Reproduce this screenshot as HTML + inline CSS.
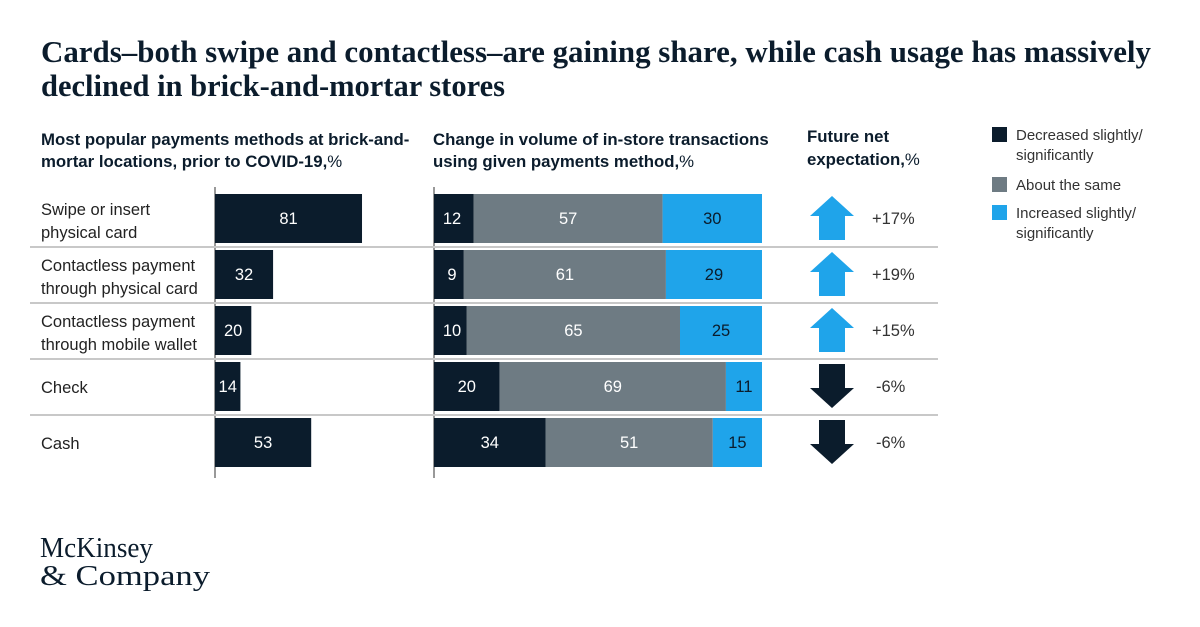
<!DOCTYPE html>
<html><head><meta charset="utf-8"><style>
body{margin:0;background:#fff;}
svg{display:block;font-family:"Liberation Sans",Arial,sans-serif;}
</style></head><body>
<svg id="chart" width="1200" height="627" viewBox="0 0 1200 627" xmlns="http://www.w3.org/2000/svg">
<text x="41" y="62" font-family="Liberation Serif,serif" font-weight="bold" font-size="30.5" fill="#0b1c2c" textLength="1110" lengthAdjust="spacingAndGlyphs">Cards–both swipe and contactless–are gaining share, while cash usage has massively</text>
<text x="41" y="96" font-family="Liberation Serif,serif" font-weight="bold" font-size="30.5" fill="#0b1c2c">declined in brick-and-mortar stores</text>
<g font-size="16.8" fill="#0b1c2c">
<text x="41" y="145" font-weight="bold">Most popular payments methods at brick-and-</text>
<text x="41" y="167" font-weight="bold">mortar locations, prior to COVID-19,<tspan font-weight="normal">%</tspan></text>
<text x="433" y="145" font-weight="bold">Change in volume of in-store transactions</text>
<text x="433" y="167" font-weight="bold">using given payments method,<tspan font-weight="normal">%</tspan></text>
<text x="807" y="142" font-weight="bold">Future net</text>
<text x="807" y="165" font-weight="bold">expectation,<tspan font-weight="normal">%</tspan></text>
</g>
<g font-size="15" fill="#333">
<rect x="992" y="127" width="15" height="15" fill="#0b1c2c"/>
<text x="1016" y="140">Decreased slightly/</text>
<text x="1016" y="160">significantly</text>
<rect x="992" y="177" width="15" height="15" fill="#6e7b83"/>
<text x="1016" y="190">About the same</text>
<rect x="992" y="205" width="15" height="15" fill="#1fa4ea"/>
<text x="1016" y="218">Increased slightly/</text>
<text x="1016" y="238">significantly</text>
</g>
<line x1="215" y1="187" x2="215" y2="478" stroke="#333" stroke-width="1"/>
<line x1="434" y1="187" x2="434" y2="478" stroke="#333" stroke-width="1"/>
<g id="rows"></g>
<text x="40" y="557" font-family="Liberation Serif,serif" font-size="28" fill="#0b1c2c" textLength="113" lengthAdjust="spacingAndGlyphs">McKinsey</text>
<text x="40" y="585" font-family="Liberation Serif,serif" font-size="28" fill="#0b1c2c" textLength="170" lengthAdjust="spacingAndGlyphs">&amp; Company</text>
</svg>
<script>
const categories=[["Swipe or insert","physical card"],["Contactless payment","through physical card"],["Contactless payment","through mobile wallet"],["Check"],["Cash"]];
const popular=[81,32,20,14,53];
const decreased=[12,9,10,20,34];
const same=[57,61,65,69,51];
const increased=[30,29,25,11,15];
const netExpect=[17,19,15,-6,-6];

const NS="http://www.w3.org/2000/svg";
const g=document.getElementById('rows');
function mk(t,a){const e=document.createElementNS(NS,t);for(const k in a)e.setAttribute(k,a[k]);g.appendChild(e);return e;}
const xL=v=>215+v*1.815;
const midX0=434,midW=328;
const rowY=i=>194+i*56;
const barH=49;
const dark="#0b1c2c",gray="#6e7b83",blue="#1fa4ea";
categories.forEach((lab,i)=>{
  const y=rowY(i);
  if(i<4){const s=mk('line',{x1:30,x2:938,y1:y+53,y2:y+53,stroke:'#c8c8c8','stroke-width':2});
    
    }
  const ly= lab.length===2? y+21 : y+31;
  lab.forEach((l,j)=>{const t=mk('text',{x:41,y:ly+j*23,'font-size':16.5,fill:'#222'});t.textContent=l;
    
    });
  const b=mk('rect',{x:215,y:y,width:xL(popular[i])-215,height:barH,fill:dark});
  
  
  const bt=mk('text',{x:(215+xL(popular[i]))/2,y:y+30,'font-size':16.5,fill:'#fff','text-anchor':'middle'});bt.textContent=popular[i];
  
  
  const tot=decreased[i]+same[i]+increased[i];
  let x=midX0;
  [[decreased[i],dark,'#fff'],[same[i],gray,'#fff'],[increased[i],blue,dark]].forEach(([v,c,tc],k)=>{
    const w=v/tot*midW;
    const r=mk('rect',{x:x,y:y,width:w,height:barH,fill:c});
    
    
    const t=mk('text',{x:k===0&&w<50?x+18:x+w/2,y:y+30,'font-size':16.5,fill:tc,'text-anchor':'middle'});t.textContent=v;
    
    
    x+=w;
  });
  const cx=832,cy=y+24,up=netExpect[i]>=0;
  const d=up?`M${cx} ${cy-22}L${cx+22} ${cy-2}L${cx+13} ${cy-2}L${cx+13} ${cy+22}L${cx-13} ${cy+22}L${cx-13} ${cy-2}L${cx-22} ${cy-2}Z`
             :`M${cx} ${cy+22}L${cx+22} ${cy+2}L${cx+13} ${cy+2}L${cx+13} ${cy-22}L${cx-13} ${cy-22}L${cx-13} ${cy+2}L${cx-22} ${cy+2}Z`;
  const a=mk('path',{d:d,fill:up?blue:dark});
  
  
  const nt=mk('text',{x:up?872:876,y:cy+6,'font-size':16.5,fill:'#333'});nt.textContent=(up?'+':'')+netExpect[i]+'%';
  
  
});
</script>
</body></html>
